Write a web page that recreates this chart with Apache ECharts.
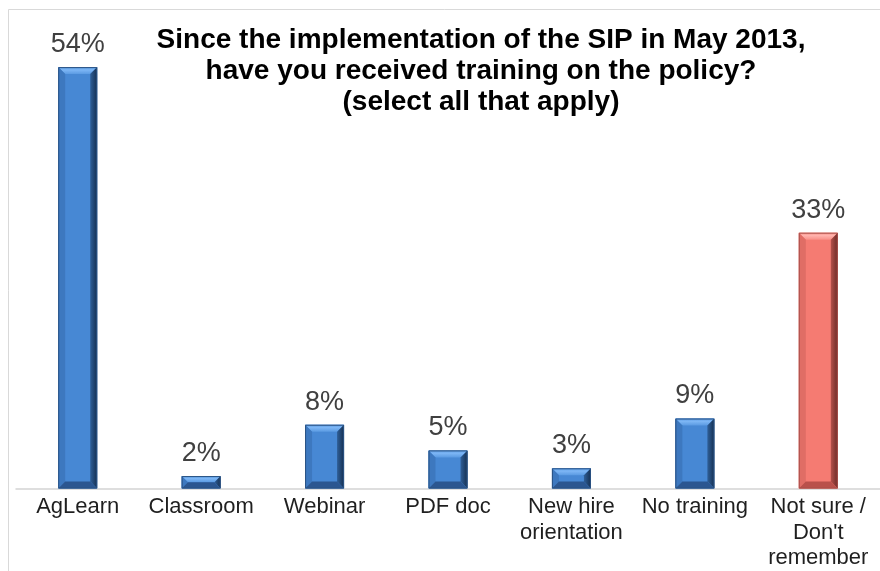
<!DOCTYPE html>
<html>
<head>
<meta charset="utf-8">
<script src="https://cdn.jsdelivr.net/npm/echarts@6/dist/echarts.min.js"></script>
<style>
  html, body { margin: 0; padding: 0; background: #ffffff; }
  #chart { width: 880px; height: 571px; }
</style>
</head>
<body>
<div id="chart"></div>
<script>
var categories = ['AgLearn', 'Classroom', 'Webinar', 'PDF doc', 'New hire\norientation', 'No training', 'Not sure /\nDon\'t\nremember'];
var values = [54.2, 1.6, 8.2, 4.9, 2.6, 9.0, 32.9];
var valueLabels = ['54%', '2%', '8%', '5%', '3%', '9%', '33%'];
var titleText = 'Since the implementation of the SIP in May 2013,\nhave you received training on the policy?\n(select all that apply)';

var palettes = {
  blue: { face: '#4788d4', top1: '#7db6f5', top2: '#5a9ae2', left: '#3d78bf', right1: '#2f5f98', right2: '#152f50', bottom: '#2b5690', edge: '#2a5283' },
  red:  { face: '#f57b72', top1: '#ffb3ad', top2: '#f99088', left: '#e06d65', right1: '#b5514b', right2: '#6b2a26', bottom: '#b9514b', edge: '#a8504a' }
};

var chart = echarts.init(document.getElementById('chart'));

function renderBar(params, api) {
  var idx = api.value(0);
  var v = api.value(1);
  var p = api.coord([idx, v]);
  var b = api.coord([idx, 0]);
  var w = 39;
  var x0 = p[0] - w / 2, x1 = p[0] + w / 2, y0 = p[1], y1 = b[1];
  var h = y1 - y0;
  var bv = Math.min(7, h / 2);
  var c = idx === 6 ? palettes.red : palettes.blue;
  var children = [
    { type: 'rect', shape: { x: x0, y: y0, width: w, height: h }, style: { fill: c.face } },
    { type: 'polygon', shape: { points: [[x0, y0], [x1, y0], [x1 - bv, y0 + bv], [x0 + bv, y0 + bv]] },
      style: { fill: new echarts.graphic.LinearGradient(0, 0, 0, 1, [{ offset: 0, color: c.top2 }, { offset: 0.4, color: c.top1 }, { offset: 1, color: c.top2 }]) } },
    { type: 'polygon', shape: { points: [[x0, y0], [x0 + bv, y0 + bv], [x0 + bv, y1 - bv], [x0, y1]] },
      style: { fill: c.left } },
    { type: 'polygon', shape: { points: [[x1, y0], [x1, y1], [x1 - bv, y1 - bv], [x1 - bv, y0 + bv]] },
      style: { fill: new echarts.graphic.LinearGradient(0, 0, 1, 0, [{ offset: 0, color: c.right1 }, { offset: 1, color: c.right2 }]) } },
    { type: 'polygon', shape: { points: [[x0, y1], [x0 + bv, y1 - bv], [x1 - bv, y1 - bv], [x1, y1]] },
      style: { fill: c.bottom } },
    { type: 'rect', shape: { x: x0 + 0.5, y: y0 + 0.5, width: w - 1, height: h - 1 }, style: { fill: null, stroke: c.edge, lineWidth: 1 } },
    { type: 'text', style: { text: valueLabels[idx], x: p[0], y: y0 - 9, align: 'center', verticalAlign: 'bottom',
      fontSize: 27, fontFamily: 'Liberation Sans', fill: '#404040' } }
  ];
  return { type: 'group', children: children };
}

chart.setOption({
  backgroundColor: '#ffffff',
  animation: false,
  title: {
    text: titleText,
    left: 476,
    textAlign: 'center',
    top: 20,
    textStyle: { fontFamily: 'Liberation Sans', fontWeight: 'bold', fontSize: 28, lineHeight: 31, color: '#000000' }
  },
  graphic: [
    { type: 'rect', shape: { x: 8.5, y: 9.5, width: 900, height: 600 }, style: { fill: null, stroke: '#d9d9d9', lineWidth: 1 }, silent: true, z: -10 }
  ],
  grid: { left: 16, width: 873, top: 22, bottom: 79, containLabel: false },
  xAxis: {
    type: 'category',
    data: categories,
    axisLine: { show: true, lineStyle: { color: '#d4d4d4', width: 1.5 } },
    axisTick: { show: false },
    axisLabel: { interval: 0, fontFamily: 'Liberation Sans', fontSize: 22, lineHeight: 25.5, color: '#1f1f1f', margin: 6 }
  },
  yAxis: { type: 'value', min: 0, max: 60, show: false, splitLine: { show: false } },
  series: [{
    type: 'custom',
    renderItem: renderBar,
    data: values.map(function (v, i) { return [i, v]; }),
    encode: { x: 0, y: 1 }
  }]
});
</script>
</body>
</html>
